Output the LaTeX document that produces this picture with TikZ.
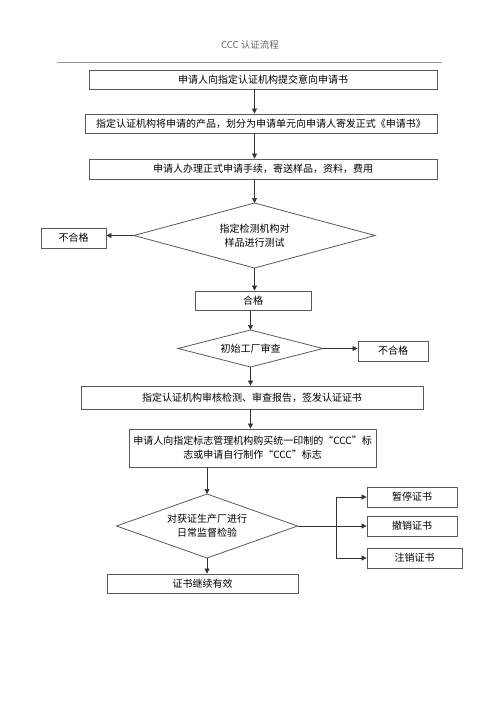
\documentclass[tikz,border=0pt]{standalone}
\usepackage{fontspec}
\setmainfont{Noto Sans CJK SC}
\usetikzlibrary{shapes.geometric,arrows.meta}

\begin{document}
\begin{tikzpicture}[x=1pt,y=-1pt,
      font=\fontsize{10}{14}\selectfont,
      box/.style={draw=black!65,line width=0.8pt,inner sep=0pt,align=center},
      check/.style={draw=black!65,line width=0.8pt,diamond,inner sep=0pt,outer sep=0pt,align=center},
      flow/.style={draw=black!80,line width=0.7pt,-{Triangle[length=5pt,width=5pt]}}]
      \useasboundingbox (0,0) rectangle (500,707);
      \node[text=black!60,font=\fontsize{9.5}{12}\selectfont] (title) at (250,45) {CCC 认证流程};
      \draw[black!40,line width=0.8pt] (57,62) -- (442,62);
      % application steps
      \node[box,minimum width=348pt,minimum height=19pt] (apply) at (263,79.5) {申请人向指定认证机构提交意向申请书};
      \node[box,minimum width=352pt,minimum height=19pt] (form) at (261,123.5) {指定认证机构将申请的产品，划分为申请单元向申请人寄发正式《申请书》};
      \node[box,minimum width=348pt,minimum height=20pt] (send) at (263,169) {申请人办理正式申请手续，寄送样品，资料，费用};
      \node[check,aspect=3.7,minimum width=241pt,minimum height=65pt] (test) at (254.5,235.5) {指定检测机构对\\样品进行测试};
      \node[box,minimum width=65pt,minimum height=20pt] (fail1) at (73.5,238) {不合格};
      \node[box,minimum width=116pt,minimum height=19pt] (pass) at (253,300.5) {合格};
      \node[check,aspect=3.9,minimum width=145pt,minimum height=37pt] (audit) at (250.5,348.5) {初始工厂审查};
      \node[box,minimum width=70pt,minimum height=20pt] (fail2) at (393,351) {不合格};
      \node[box,minimum width=342pt,minimum height=23pt] (issue) at (252,397.5) {指定认证机构审核检测、审查报告，签发认证证书};
      \node[box,minimum width=247pt,minimum height=38pt] (mark) at (252.5,448) {申请人向指定标志管理机构购买统一印制的“CCC”标\\志或申请自行制作“CCC”标志};
      % surveillance
      \node[check,aspect=2.8,minimum width=181pt,minimum height=64pt] (watch) at (207,526) {对获证生产厂进行\\日常监督检验};
      \node[box,minimum width=191pt,minimum height=19pt] (valid) at (202.5,583.5) {证书继续有效};
      \node[box,minimum width=90pt,minimum height=20pt] (pause) at (412,497) {暂停证书};
      \node[box,minimum width=90pt,minimum height=20pt] (revoke) at (412,526) {撤销证书};
      \node[box,minimum width=95pt,minimum height=20pt] (cancel) at (414.5,558) {注销证书};
      \coordinate (fork) at (336,526);
      \draw[flow] (apply.south -| test.north) -- (form.north -| test.north);
      \draw[flow] (form.south -| test.north) -- (send.north -| test.north);
      \draw[flow] (send.south -| test.north) -- (test.north);
      \draw[flow] (test.west) -- (fail1.east |- test.west);
      \draw[flow] (test.south) -- (pass.north -| test.south);
      \draw[flow] (pass.south -| audit.north) -- (audit.north);
      \draw[flow] (audit.east) -- (fail2.west |- audit.east);
      \draw[flow] (audit.south) -- (issue.north -| audit.south);
      \draw[flow] (issue.south -| audit.south) -- (mark.north -| audit.south);
      \draw[flow] (mark.south -| watch.north) -- (watch.north);
      \draw[flow] (watch.south) -- (valid.north -| watch.south);
      \draw[flow] (watch.east) -- (revoke.west);
      \draw[flow] (fork) |- (pause.west);
      \draw[flow] (fork) |- (cancel.west);
    \end{tikzpicture}
\end{document}
